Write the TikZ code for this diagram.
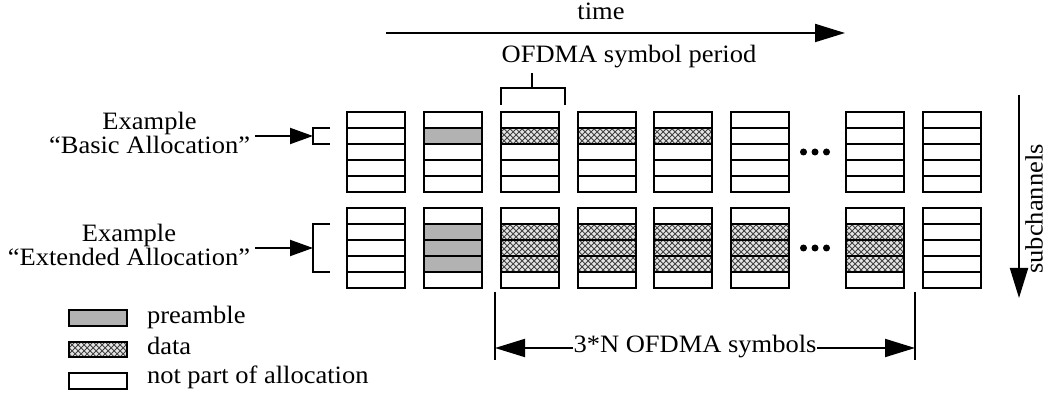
\documentclass[tikz,border=0pt]{standalone}
\usepackage{fontspec}
\setmainfont{Liberation Serif}[FakeStretch=1.06]
\usetikzlibrary{arrows.meta}
\usetikzlibrary{patterns}

\begin{document}
\begin{tikzpicture}[x=0.5pt, y=-0.5pt, line width=1pt,
    txt/.style={font=\fontsize{12.5}{11}\selectfont, inner sep=0pt},
    pre/.style={fill=gray!60},
    dat/.style={fill=gray!20, postaction={pattern=crosshatch, pattern color=black!75}},
    bigarrow/.style={-{Triangle[length=15pt,width=9pt]}},
    smallarrow/.style={-{Triangle[length=11.5pt,width=8pt]}}]
    \useasboundingbox (0,0) rectangle (1053,399);
    \def\w{58}
    \def\rh{16}
    %% Fills
    \fill[pre] (424,128) rectangle ++(\w,\rh);
    \fill[pre] (424,224) rectangle ++(\w,3*\rh);
    \foreach \x in {501,578,654}
        \path[dat] (\x,128) rectangle ++(\w,\rh);
    \foreach \x in {501,578,654,731,846}
        \path[dat] (\x,224) rectangle ++(\w,3*\rh);
    %% Symbol columns
    \foreach \x in {347,424,501,578,654,731,846,923} {
        \foreach \y in {112,208} {
            \draw (\x,\y) rectangle ++(\w,5*\rh);
            \foreach \k in {1,...,4}
                \draw (\x,\y+\k*\rh) -- ++(\w,0);
        }
    }
    %% Dots
    \foreach \y in {152,248}
        \fill (803.5,\y) circle[radius=1.75pt] (815,\y) circle[radius=1.75pt] (826.5,\y) circle[radius=1.75pt];
    %% Allocation labels
    \coordinate (basicbr) at (313,136);
    \coordinate (extbr) at (313,248);
    \draw (330,128) -- (313,128) -- (313,144) -- (330,144);
    \draw (330,224) -- (313,224) -- (313,272) -- (330,272);
    \node[txt, align=center, anchor=east, inner xsep=2pt] (basic) at (255,133) {Example\\“Basic Allocation”};
    \node[txt, align=center, anchor=east, inner xsep=2pt] (extended) at (255,245) {Example\\“Extended Allocation”};
    \draw[smallarrow] (basic.east |- basicbr) -- (basicbr);
    \draw[smallarrow] (extended.east |- extbr) -- (extbr);
    %% Time
    \coordinate (t0) at (386,33);
    \coordinate (t1) at (845,33);
    \draw[bigarrow] (t0) -- (t1);
    \node[txt, anchor=base] (time) at (601,20) {time};
    %% Symbol period
    \node[txt, anchor=base, inner ysep=2pt] (period) at (629,63) {OFDMA symbol period};
    \coordinate (pmid) at (532,88);
    \draw (501,105) -- (501,88) -- (565,88) -- (565,105);
    \draw (pmid) -- (pmid |- period.south);
    %% Subchannels
    \coordinate (s0) at (1019,95);
    \coordinate (s1) at (1019,298);
    \draw[bigarrow] (s0) -- (s1);
    \node[txt, rotate=90] (subch) at (1034,209) {subchannels};
    %% 3*N symbols
    \coordinate (dl) at (495,348);
    \coordinate (dr) at (915,348);
    \draw (495,292) -- (495,360);
    \draw (915,292) -- (915,360);
    \node[txt, anchor=base] (nsym) at (695,353) {3*N OFDMA symbols};
    \draw[bigarrow] (nsym.west |- dl) -- (dl);
    \draw[bigarrow] (nsym.east |- dr) -- (dr);
    %% Legend
    \draw[pre] (69,310) rectangle (127,326);
    \path[dat] (69,342) rectangle (127,357);
    \draw (69,342) rectangle (127,357);
    \draw (69,373) rectangle (127,389);
    \node[txt, anchor=base west] (lpre) at (146,324) {preamble};
    \node[txt, anchor=base west] (ldat) at (146,355) {data};
    \node[txt, anchor=base west] (lnot) at (146,384) {not part of allocation};
\end{tikzpicture}
\end{document}
